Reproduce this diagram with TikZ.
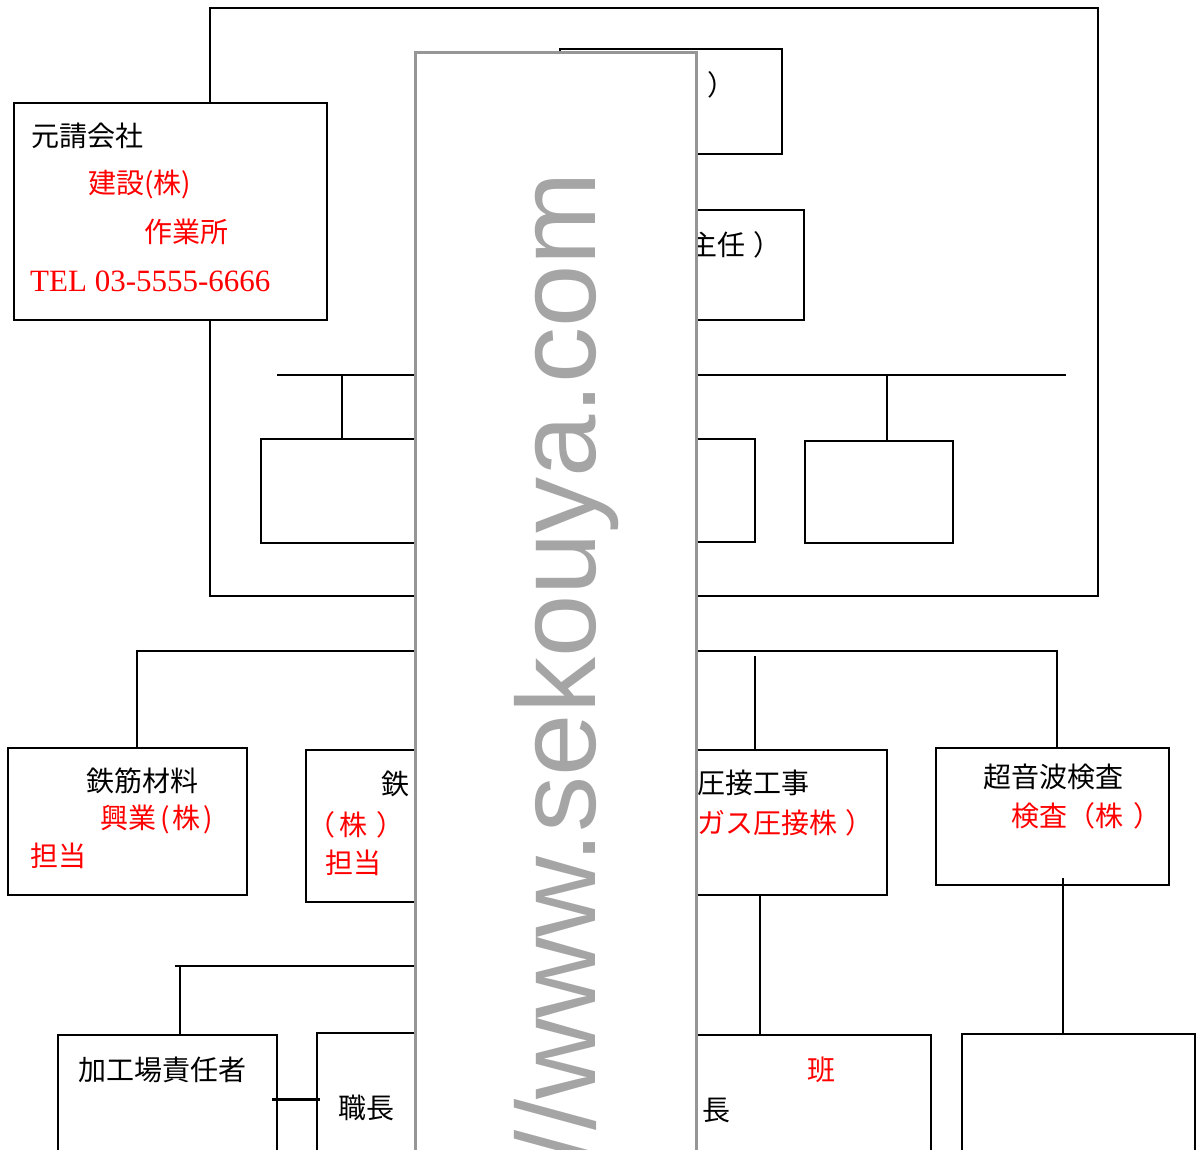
\documentclass[tikz,border=0pt]{standalone}
\usepackage{fontspec}
\setmainfont{Noto Sans CJK JP}
\newfontfamily\jpfont{Noto Sans CJK JP}
\newfontfamily\telfont{Liberation Serif}
\newfontfamily\wmfont{Liberation Sans}
\definecolor{wmgray}{RGB}{165,165,165}
\definecolor{wmborder}{RGB}{150,150,150}
\begin{document}
\begin{tikzpicture}[x=1pt,y=-1pt,
  box/.style={draw, line width=1.8pt, fill=white, rectangle, inner sep=0pt, outer sep=0pt, anchor=north west},
  conn/.style={line width=1.8pt},
  lbl/.style={inner sep=0pt, anchor=west, font=\jpfont\fontsize{28}{30}\selectfont},
  rlbl/.style={lbl, text=red}]
\useasboundingbox (0,0) rectangle (1197,1149);
\clip (0,0) rectangle (1197,1149);
\fill[white] (0,0) rectangle (1197,1149);
% outer frame
\node[box, fill=none, minimum width=888pt, minimum height=588pt] (outer) at (210,8) {};
% boxes
\node[box, minimum width=313pt, minimum height=217pt] (moto) at (14,103) {};
\node[box, minimum width=222pt, minimum height=105pt] (tb) at (560,49) {};
\node[box, minimum width=264pt, minimum height=110pt] (cb) at (540,210) {};
\node[box, minimum width=199pt, minimum height=104pt] (b1) at (261,439) {};
\node[box, minimum width=155pt, minimum height=103pt] (b2) at (600,439) {};
\node[box, minimum width=148pt, minimum height=102pt] (b3) at (805,441) {};
\node[box, minimum width=239pt, minimum height=147pt] (s1) at (8,748) {};
\node[box, minimum width=214pt, minimum height=152pt] (s2) at (306,750) {};
\node[box, minimum width=287pt, minimum height=145pt] (s3) at (600,750) {};
\node[box, minimum width=233pt, minimum height=137pt] (s4) at (936,748) {};
\node[box, minimum width=219pt, minimum height=130pt] (k1) at (58,1035) {};
\node[box, minimum width=203pt, minimum height=130pt] (k2) at (317,1033) {};
\node[box, minimum width=331pt, minimum height=130pt] (k3) at (600,1035) {};
\node[box, minimum width=233pt, minimum height=130pt] (k4) at (962,1034) {};
% connector coordinates
\coordinate (busAw) at (277,375);
\coordinate (busAe) at (1066,375);
\coordinate (tA1) at (342,375);
\coordinate (tA3) at (887,375);
\coordinate (busBw) at (136,651);
\coordinate (busBe) at (1058,651);
\coordinate (tB1) at (137,651);
\coordinate (tB3) at (755,656);
\coordinate (tB4) at (1057,651);
\coordinate (busCw) at (175,966);
\coordinate (busCe) at (420,966);
\coordinate (tC1) at (180,966);
\coordinate (dS3) at (760,895);
\coordinate (dS4) at (1063,878);
\coordinate (hk1) at (272,1099);
\coordinate (hk2) at (320,1099);
% connectors
\draw[conn] (busAw) -- (busAe);
\draw[conn] (tA1) -- (tA1 |- b1.north);
\draw[conn] (tA3) -- (tA3 |- b3.north);
\draw[conn] (busBw) -- (busBe);
\draw[conn] (tB1) -- (tB1 |- s1.north);
\draw[conn] (tB3) -- (tB3 |- s3.north);
\draw[conn] (tB4) -- (tB4 |- s4.north);
\draw[conn] (busCw) -- (busCe);
\draw[conn] (tC1) -- (tC1 |- k1.north);
\draw[conn] (dS3) -- (dS3 |- k3.north);
\draw[conn] (dS4) -- (dS4 |- k4.north);
\draw[line width=3pt] (hk1) -- (hk2);
% labels
\node[lbl] (t1) at (31,136) {元請会社};
\node[rlbl] (t2) at (88,184) {建設(株)};
\node[rlbl] (t3) at (144,232) {作業所};
\node[inner sep=0pt, anchor=west, text=red, font=\telfont\fontsize{31}{33}\selectfont] (t4) at (30,281) {TEL 03-5555-6666};
\node[lbl] (t5) at (707,85) {）};
\node[lbl] (t6) at (689,245) {主任\kern8pt）};
\node[lbl] (t7) at (86,781) {鉄筋材料};
\node[rlbl] (t8) at (100,819) {興業\kern4pt(\kern3pt株\kern3pt)};
\node[rlbl] (t9) at (30,856) {担当};
\node[lbl] (t10) at (381,784) {鉄};
\node[rlbl] (t11) at (307,825) {（\kern4pt株\kern9pt）};
\node[rlbl] (t12) at (325,863) {担当};
\node[lbl] (t13) at (697,783) {圧接工事};
\node[rlbl] (t14) at (697,823) {ガス圧接株\kern8pt）};
\node[lbl] (t15) at (983,777) {超音波検査};
\node[rlbl] (t16) at (1011,816) {検査（株\kern10pt）};
\node[lbl] (t17) at (78,1070) {加工場責任者};
\node[lbl] (t18) at (338,1108) {職長};
\node[rlbl] (t19) at (807,1070) {班};
\node[lbl] (t20) at (702,1110) {長};
% watermark panel
\node[box, draw=wmborder, line width=3pt, minimum width=281pt, minimum height=1150pt] (wm) at (415,52) {};
\node[inner sep=0pt, anchor=base east, rotate=90, text=wmgray, font=\wmfont\fontsize{112}{112}\selectfont] (wmtext) at (595,172) {//www.sekouya.com};
\end{tikzpicture}
\end{document}
